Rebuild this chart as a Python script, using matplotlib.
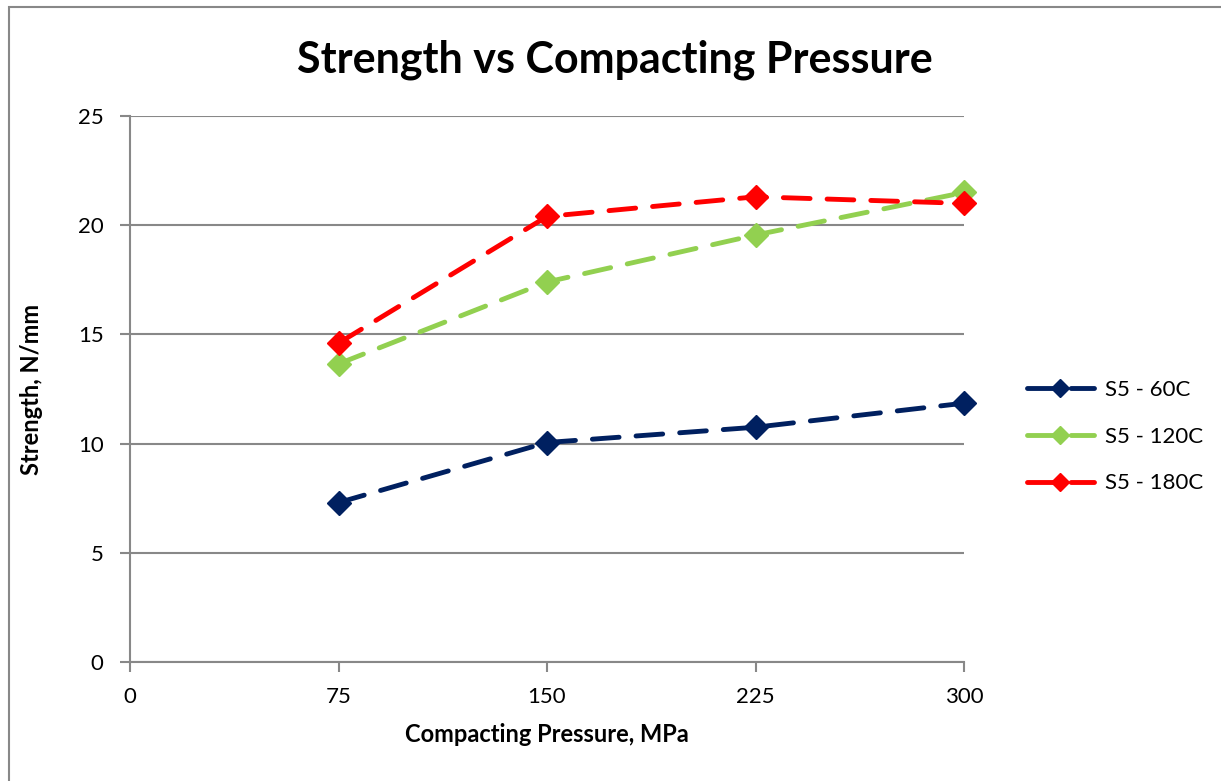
import matplotlib
matplotlib.use("Agg")
import matplotlib.pyplot as plt
from matplotlib.patches import Rectangle

# ── Data ──────────────────────────────────────────────────────────────────────
pressure = [75, 150, 225, 300]
s5_60c = [7.3, 10.05, 10.75, 11.85]
s5_120c = [13.65, 17.4, 19.55, 21.5]
s5_180c = [14.6, 20.4, 21.3, 21.0]

series = [
    ("S5 - 60C", s5_60c, "#002060"),
    ("S5 - 120C", s5_120c, "#92D050"),
    ("S5 - 180C", s5_180c, "#FF0000"),
]

plt.rcParams['font.family'] = ['Lato', 'DejaVu Sans']

fig = plt.figure(figsize=(12.21, 7.81), dpi=100, facecolor='white')
W, H = 1221, 781

# chart-area border (runs past the right/bottom edges of the picture)
fig.patches.append(Rectangle((9 / W, -0.05), 1.2, 1 - 7 / H + 0.05,
                             transform=fig.transFigure, fill=False,
                             edgecolor='#888888', lw=1.5))

ax = fig.add_axes([130 / W, 1 - 662 / H, (964 - 130) / W, (662 - 116) / H])

for name, vals, col in series:
    ax.plot(pressure, vals, color=col, lw=3.5, ls=(0, (5.5, 3.5)),
            dash_capstyle='round', marker='D', ms=12, mec=col, mfc=col,
            label=name, clip_on=False, zorder=3)

ax.set_xlim(0, 300)
ax.set_ylim(0, 25)
ax.set_xticks([0, 75, 150, 225, 300])
ax.set_yticks([0, 5, 10, 15, 20, 25])
ax.grid(True, axis='y', color='#888888', lw=1.5)
ax.set_axisbelow(True)
for s in ['top', 'right']:
    ax.spines[s].set_visible(False)
for s in ['left', 'bottom']:
    ax.spines[s].set_color('#888888')
    ax.spines[s].set_linewidth(1.5)
ax.tick_params(axis='both', direction='out', length=7, width=1.5,
               color='#888888', labelsize=16, labelcolor='black')
ax.tick_params(axis='x', pad=11)
ax.tick_params(axis='y', pad=12)

fig.text(615 / W, 1 - 60 / H, 'Strength vs Compacting Pressure',
         ha='center', va='center', fontsize=31, fontweight='bold')
fig.text(547 / W, 1 - 735 / H, 'Compacting Pressure, MPa',
         ha='center', va='center', fontsize=17, fontweight='bold')
fig.text(32 / W, 1 - 389 / H, 'Strength, N/mm', rotation=90,
         ha='center', va='center', fontsize=17, fontweight='bold')

fig.legend(loc='upper left', bbox_to_anchor=(1007 / W, 1 - 360 / H),
           frameon=False, fontsize=16, handlelength=3.0, labelspacing=1.2,
           handletextpad=0.5, markerscale=0.75)

fig.savefig('out.png', dpi=100, facecolor='white')
